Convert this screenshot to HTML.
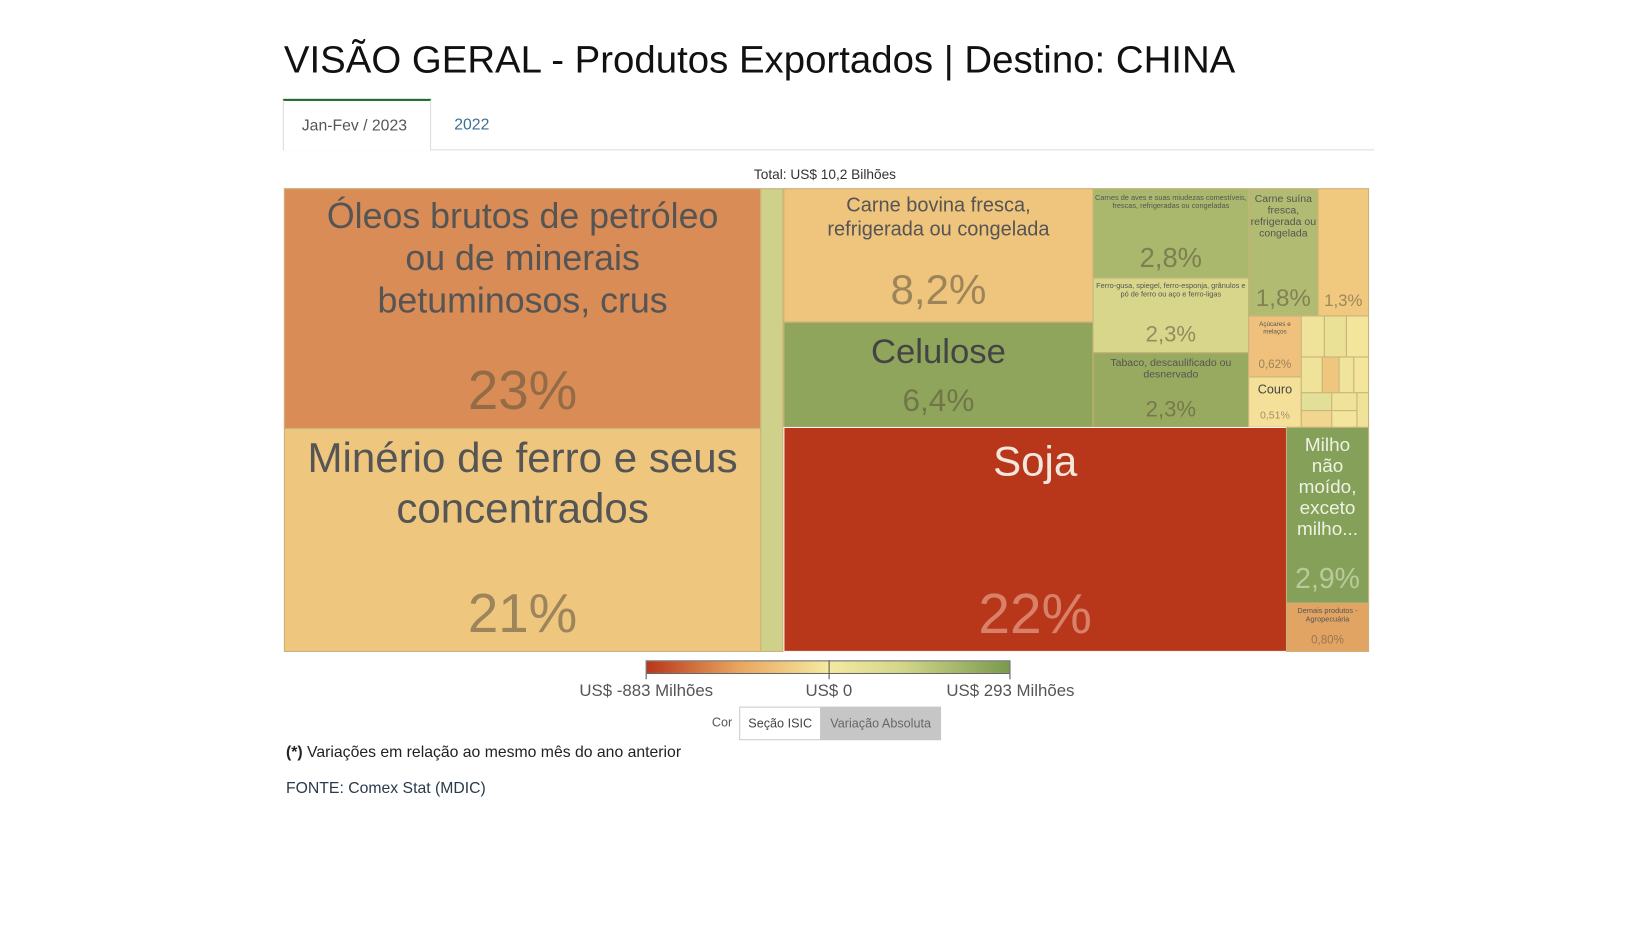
<!DOCTYPE html>
<html><head><meta charset="utf-8"><style>
body{margin:0;width:1649px;height:892px;background:#fff;font-family:"Liberation Sans",sans-serif;position:relative;overflow:hidden}
#w{position:absolute;left:0;top:0;width:1649px;height:892px;transform:scale(1.0515);transform-origin:0 0}
.a{position:absolute}
.c{position:absolute;box-sizing:border-box;border:1px solid #c9b27a;text-align:center;color:#555;overflow:hidden}
.p{position:absolute;left:0;right:0;text-align:center;color:rgba(90,80,60,.55)}
</style></head><body><div id="w">
<div class="a" style="left:270px;top:36px;font-size:36.5px;color:#111;letter-spacing:0px">VISÃO GERAL - Produtos Exportados | Destino: CHINA</div>
<div class="a" style="left:269px;top:94px;width:141px;height:49px;border-top:2px solid #1e6b2d;border-left:1px solid #ddd;border-right:1px solid #ddd;box-sizing:border-box;background:#fff;z-index:2"></div>
<div class="a" style="left:287px;top:111px;font-size:15px;color:#555;z-index:3">Jan-Fev / 2023</div>
<div class="a" style="left:432px;top:110px;font-size:15px;color:#3b6e95">2022</div>
<div class="a" style="left:269px;top:142px;width:1038px;height:1px;background:#ddd"></div>
<div class="a" style="left:717px;top:158px;font-size:13px;color:#333">Total: US$ 10,2 Bilhões</div>

<div class="c" style="left:270px;top:179px;width:454px;height:229px;background:#d98c55"><div style="font-size:34px;line-height:40px;margin-top:6px">Óleos brutos de petróleo<br>ou de minerais<br>betuminosos, crus</div><div class="p" style="top:162px;font-size:52px">23%</div></div>
<div class="c" style="left:270px;top:407px;width:454px;height:213px;background:#eec67e"><div style="font-size:40px;line-height:48px;margin-top:4px">Minério de ferro e seus<br>concentrados</div><div class="p" style="top:146px;font-size:52px">21%</div></div>
<div class="c" style="left:723px;top:179px;width:22px;height:441px;background:#cfd08a"></div>
<div class="c" style="left:745px;top:179px;width:295px;height:128px;background:#efc57d"><div style="font-size:19px;line-height:23px;margin-top:4px">Carne bovina fresca,<br>refrigerada ou congelada</div><div class="p" style="top:74px;font-size:40px">8,2%</div></div>
<div class="c" style="left:745px;top:306px;width:295px;height:101px;background:#8fa55c"><div style="font-size:33px;margin-top:8px;color:#444">Celulose</div><div class="p" style="top:58px;font-size:30px">6,4%</div></div>
<div class="c" style="left:1039px;top:179px;width:149px;height:86px;background:#a9b86c"><div style="font-size:7px;line-height:8px;margin-top:5px">Carnes de aves e suas miudezas comestíveis, frescas, refrigeradas ou congeladas</div><div class="p" style="top:50px;font-size:26px">2,8%</div></div>
<div class="c" style="left:1039px;top:264px;width:149px;height:72px;background:#d7d68a"><div style="font-size:7px;line-height:8px;margin-top:4px">Ferro-gusa, spiegel, ferro-esponja, grânulos e pó de ferro ou aço e ferro-ligas</div><div class="p" style="top:42px;font-size:21px">2,3%</div></div>
<div class="c" style="left:1039px;top:335px;width:149px;height:72px;background:#98aa60"><div style="font-size:10px;line-height:11px;margin-top:4px">Tabaco, descaulificado ou desnervado</div><div class="p" style="top:42px;font-size:21px">2,3%</div></div>
<div class="c" style="left:1187px;top:179px;width:67px;height:122px;background:#b1bc72"><div style="font-size:10px;line-height:11px;margin-top:4px">Carne suína fresca, refrigerada ou congelada</div><div class="p" style="top:90px;font-size:23px">1,8%</div></div>
<div class="c" style="left:1253px;top:179px;width:49px;height:122px;background:#f0c97f"><div class="p" style="top:98px;font-size:16px">1,3%</div></div>
<div class="c" style="left:1187px;top:300px;width:51px;height:59px;background:#efc17c"><div style="font-size:6px;line-height:7px;margin-top:5px">Açúcares e melaços</div><div class="p" style="top:40px;font-size:11px">0,62%</div></div>
<div class="c" style="left:1187px;top:358px;width:51px;height:49px;background:#f5e09a"><div style="font-size:12px;margin-top:4px;color:#444">Couro</div><div class="p" style="top:31px;font-size:10px">0,51%</div></div>
<div class="c" style="left:1237px;top:300px;width:23px;height:40px;background:#efe39a"></div>
<div class="c" style="left:1259px;top:300px;width:22px;height:40px;background:#eae096"></div>
<div class="c" style="left:1280px;top:300px;width:22px;height:40px;background:#f3e59c"></div>
<div class="c" style="left:1237px;top:339px;width:21px;height:35px;background:#efe39a"></div>
<div class="c" style="left:1257px;top:339px;width:17px;height:35px;background:#eec67e"></div>
<div class="c" style="left:1273px;top:339px;width:15px;height:35px;background:#f0e49c"></div>
<div class="c" style="left:1287px;top:339px;width:15px;height:35px;background:#f3e59c"></div>
<div class="c" style="left:1237px;top:373px;width:30px;height:18px;background:#e1df98"></div>
<div class="c" style="left:1266px;top:373px;width:25px;height:18px;background:#efe39a"></div>
<div class="c" style="left:1237px;top:390px;width:30px;height:17px;background:#f1d68f"></div>
<div class="c" style="left:1266px;top:390px;width:25px;height:17px;background:#f3e59c"></div>
<div class="c" style="left:1290px;top:373px;width:12px;height:34px;background:#efe39a"></div>
<div class="c" style="left:745px;top:406px;width:479px;height:214px;background:#b8361a;border-color:#fff"><div style="font-size:40px;margin-top:10px;color:#f3e6dc">Soja</div><div class="p" style="top:146px;font-size:54px;color:rgba(255,220,200,.45)">22%</div></div>
<div class="c" style="left:1223px;top:406px;width:79px;height:168px;background:#85a058"><div style="font-size:18px;line-height:20px;margin-top:6px;color:#eef2e4">Milho<br>não<br>moído,<br>exceto<br>milho...</div><div class="p" style="top:128px;font-size:27px;color:rgba(220,230,200,.6)">2,9%</div></div>
<div class="c" style="left:1223px;top:573px;width:79px;height:47px;background:#e2a463"><div style="font-size:7px;line-height:8px;margin-top:4px">Demais produtos - Agropecuária</div><div class="p" style="top:29px;font-size:11px">0,80%</div></div>

<div class="a" style="left:614px;top:628px;width:347px;height:13px;border:1px solid #666;box-sizing:border-box;background:linear-gradient(90deg,#b8361a,#e9a45d 25%,#f6e9a0 50%,#d4d78a 70%,#7a9a4e)"></div>
<div class="a" style="left:614px;top:641px;width:1px;height:5px;background:#555"></div>
<div class="a" style="left:788px;top:628px;width:1px;height:18px;background:#555"></div>
<div class="a" style="left:960px;top:641px;width:1px;height:5px;background:#555"></div>
<div class="a" style="left:551px;top:649px;font-size:16px;color:#555">US$ -883 Milhões</div>
<div class="a" style="left:766px;top:649px;font-size:16px;color:#555">US$ 0</div>
<div class="a" style="left:900px;top:649px;font-size:16px;color:#555">US$ 293 Milhões</div>
<div class="a" style="left:677px;top:680px;font-size:12px;color:#555">Cor</div>
<div class="a" style="left:703px;top:672px;width:78px;height:32px;border:1px solid #ccc;box-sizing:border-box;font-size:12px;color:#444;text-align:center;line-height:30px">Seção ISIC</div>
<div class="a" style="left:780px;top:672px;width:115px;height:32px;background:#c6c6c6;font-size:12px;color:#666;text-align:center;line-height:32px">Variação Absoluta</div>
<div class="a" style="left:272px;top:707px;font-size:15px;color:#222"><b>(*)</b> Variações em relação ao mesmo mês do ano anterior</div>
<div class="a" style="left:272px;top:741px;font-size:15px;color:#2a3a4a">FONTE: Comex Stat (MDIC)</div>
</div></body></html>
